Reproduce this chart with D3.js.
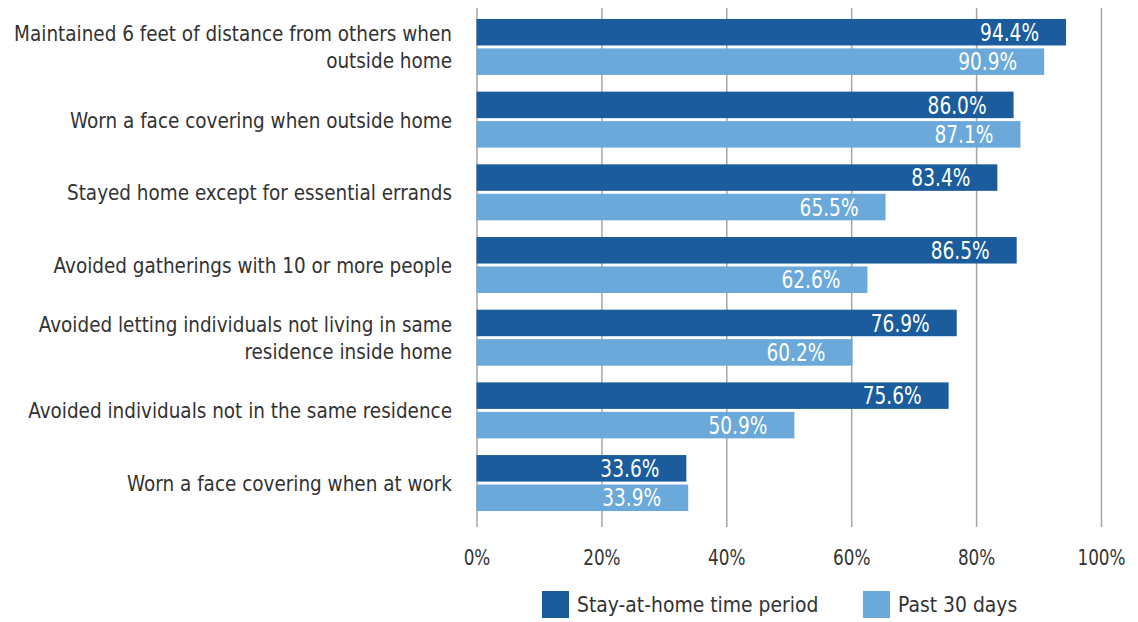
<!DOCTYPE html>
<html>
<head>
<meta charset="utf-8">
<script src="https://cdn.jsdelivr.net/npm/d3@7"></script>
<style>
  html, body { margin: 0; padding: 0; background: #fff; }
  svg { display: block; }
  text { font-family: "DejaVu Sans Condensed", "DejaVu Sans", sans-serif; }
</style>
</head>
<body>
<svg id="chart" width="1138" height="622"></svg>
<script>
// ---- data ----
const categories = [
  ["Maintained 6 feet of distance from others when", "outside home"],
  ["Worn a face covering when outside home"],
  ["Stayed home except for essential errands"],
  ["Avoided gatherings with 10 or more people"],
  ["Avoided letting individuals not living in same", "residence inside home"],
  ["Avoided individuals not in the same residence"],
  ["Worn a face covering when at work"]
];
const seriesNames = ["Stay-at-home time period", "Past 30 days"];
const stayAtHome = [94.4, 86.0, 83.4, 86.5, 76.9, 75.6, 33.6];
const past30 = [90.9, 87.1, 65.5, 62.6, 60.2, 50.9, 33.9];
const xTicks = [0, 20, 40, 60, 80, 100];
const colors = ["#1a5c9c", "#6aa9da"];

// ---- layout ----
const svg = d3.select("#chart");
const xLeft = 476.5, xRight = 1101;
const gridTop = 8, gridBottom = 527;
const textColor = "#333";

const x = d3.scaleLinear().domain([0, 100]).range([xLeft, xRight]);
const y = d3.scaleBand()
  .domain(d3.range(categories.length))
  .range([5.5, 524.5])
  .paddingInner(0.23)
  .paddingOuter(0.185);
const ySub = d3.scaleBand()
  .domain([0, 1])
  .range([0, y.bandwidth()])
  .paddingInner(0.1);

// grid + x axis
const axis = d3.axisBottom(x)
  .tickValues(xTicks)
  .tickFormat(d => d + "%")
  .tickSizeInner(-(gridBottom - gridTop))
  .tickSizeOuter(0)
  .tickPadding(22);
const gAxis = svg.append("g")
  .attr("transform", `translate(0,${gridBottom})`)
  .call(axis);
gAxis.select(".domain").remove();
gAxis.selectAll(".tick line").attr("stroke", "#a6a6a6").attr("stroke-width", 1.5);
gAxis.selectAll(".tick text")
  .attr("fill", textColor)
  .attr("transform", "scale(0.85,1)")
  .style("font-size", "22px")
  .style("font-family", "'DejaVu Sans Condensed', 'DejaVu Sans', sans-serif");

// bars
const series = [stayAtHome, past30];
series.forEach((vals, si) => {
  const g = svg.append("g");
  g.selectAll("rect")
    .data(vals)
    .join("rect")
    .attr("x", x(0))
    .attr("y", (d, i) => y(i) + ySub(si))
    .attr("width", d => x(d) - x(0))
    .attr("height", ySub.bandwidth())
    .attr("fill", colors[si]);
  g.selectAll("g.lbl")
    .data(vals)
    .join("g")
    .attr("class", "lbl")
    .attr("transform", (d, i) =>
      `translate(${x(d) - 27},${y(i) + ySub(si) + ySub.bandwidth() / 2}) scale(0.86,1)`)
    .append("text")
    .attr("dy", "0.36em")
    .attr("text-anchor", "end")
    .attr("fill", "#fff")
    .style("font-size", "24px")
    .text(d => d.toFixed(1) + "%");
});

// category labels
const lineH = 27;
const gCat = svg.append("g").attr("transform", "translate(452,0) scale(0.93,1)");
categories.forEach((lines, i) => {
  const cy = y(i) + y.bandwidth() / 2;
  const t = gCat.append("text")
    .attr("text-anchor", "end")
    .attr("fill", textColor)
    .style("font-size", "22px");
  lines.forEach((ln, j) => {
    t.append("tspan")
      .attr("x", 0)
      .attr("y", cy + (j - (lines.length - 1) / 2) * lineH)
      .attr("dy", "0.36em")
      .text(ln);
  });
});

// legend
const legendX = [542, 863];
const gLeg = svg.append("g");
seriesNames.forEach((name, i) => {
  gLeg.append("rect")
    .attr("x", legendX[i]).attr("y", 591)
    .attr("width", 27).attr("height", 27)
    .attr("fill", colors[i]);
  gLeg.append("g")
    .attr("transform", `translate(${legendX[i] + 35},604.5) scale(0.95,1)`)
    .append("text")
    .attr("dy", "0.36em")
    .attr("fill", textColor)
    .style("font-size", "22px")
    .text(name);
});
</script>
</body>
</html>
